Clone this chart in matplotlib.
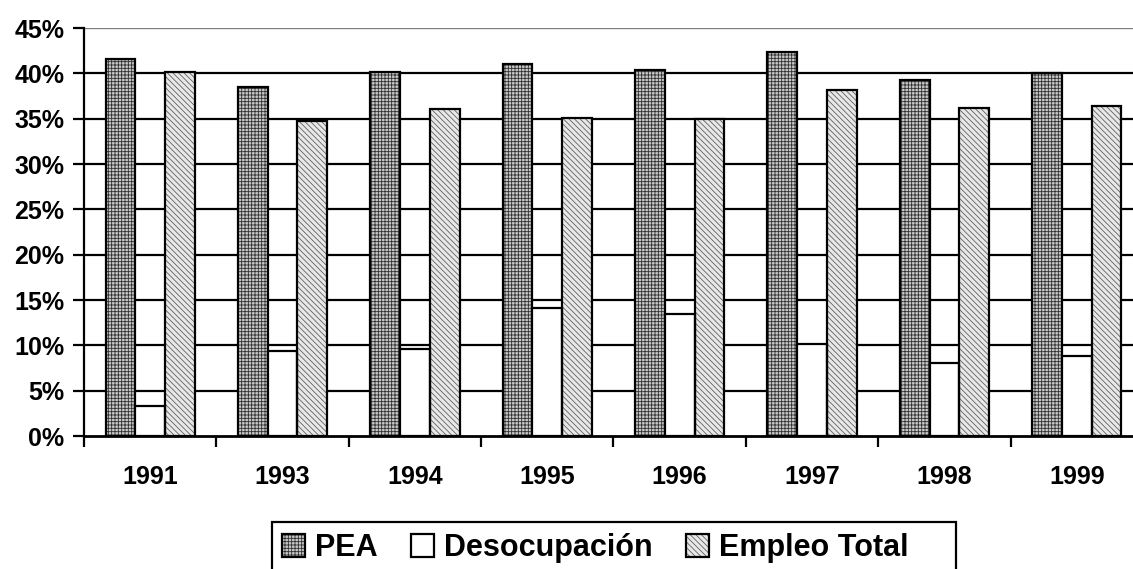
import numpy as np
import matplotlib
matplotlib.use("Agg")
import matplotlib.pyplot as plt
from matplotlib.patches import Patch, Rectangle
from matplotlib.legend_handler import HandlerTuple
from matplotlib.ticker import PercentFormatter

# data (percent)
years = ['1991', '1993', '1994', '1995', '1996', '1997', '1998', '1999']
pea = [41.6, 38.5, 40.1, 41.0, 40.4, 42.4, 39.3, 40.0]
desocupacion = [3.3, 9.4, 9.6, 14.1, 13.5, 10.1, 8.1, 8.8]
empleo_total = [40.1, 34.7, 36.1, 35.1, 35.0, 38.2, 36.2, 36.4]

plt.rcParams['font.family'] = ['Liberation Sans', 'DejaVu Sans']
plt.rcParams['font.weight'] = 'bold'
plt.rcParams['hatch.linewidth'] = 0.6

fig = plt.figure(figsize=(11.33, 5.69), dpi=100)
# plot area runs past the right edge of the picture, as in the original
ax = fig.add_axes([84 / 1133, 1 - 436 / 569, 1059 / 1133, 408 / 569])

x = np.arange(len(years))
w = 0.225

pea_style = dict(facecolor='#c8c8c8', edgecolor='#303030', hatch='+++++', lw=0)
emp_style = dict(facecolor='#e8e8e8', edgecolor='#606060', hatch='\\' * 6, lw=0)

# gridlines behind the bars
for g in range(5, 45, 5):
    ax.axhline(g, color='black', lw=1.6, zorder=0)
ax.axhline(45, color='#808080', lw=1.0, zorder=0)

# PEA: dark crosshatch
ax.bar(x - w, pea, w, zorder=2, **pea_style)
ax.bar(x - w, pea, w, fill=False, edgecolor='black', lw=1.6, zorder=3)
# Desocupacion: plain white
ax.bar(x, desocupacion, w, color='white', edgecolor='black', lw=1.6, zorder=3)
# Empleo Total: light diagonal hatch
ax.bar(x + w, empleo_total, w, zorder=2, **emp_style)
ax.bar(x + w, empleo_total, w, fill=False, edgecolor='black', lw=1.6, zorder=3)

ax.set_xlim(-0.5, len(years) - 0.5)
ax.set_ylim(0, 45)
ax.set_yticks(range(0, 50, 5))
ax.yaxis.set_major_formatter(PercentFormatter(decimals=0))
ax.set_xticks(x)
ax.set_xticklabels(years)
ax.set_xticks(np.arange(len(years) + 1) - 0.5, minor=True)
ax.tick_params(axis='x', which='major', length=0, pad=21, labelsize=18)
ax.tick_params(axis='x', which='minor', length=8, width=1.6, direction='out')
ax.tick_params(axis='y', length=8, width=1.6, direction='out', pad=6, labelsize=18)

for s in ['top', 'right']:
    ax.spines[s].set_visible(False)
ax.spines['left'].set_linewidth(1.6)
ax.spines['bottom'].set_linewidth(2.0)

# legend frame drawn by hand (wider than the entries, cut off at the bottom)
fig.patches.append(Rectangle((272 / 1133, -0.05), (956 - 272) / 1133, 0.05 + (569 - 522) / 569,
                             transform=fig.transFigure, fill=False,
                             edgecolor='black', lw=1.6))

# legend handles: hatched fill with black outline
h_pea = (Patch(**pea_style), Patch(fill=False, edgecolor='black', lw=1.6))
h_des = Patch(facecolor='white', edgecolor='black', lw=1.6)
h_emp = (Patch(**emp_style), Patch(fill=False, edgecolor='black', lw=1.6))
leg = fig.legend([h_pea, h_des, h_emp], ['PEA', 'Desocupación', 'Empleo Total'],
                 handler_map={tuple: HandlerTuple(ndivide=1)},
                 loc='upper left', bbox_to_anchor=(282 / 1133, 1 - 533 / 569),
                 ncol=3, fontsize=22, frameon=False,
                 handlelength=0.75, handleheight=0.75, handletextpad=0.33,
                 columnspacing=1.1, borderpad=0, borderaxespad=0)

fig.savefig('out.png', dpi=100)
